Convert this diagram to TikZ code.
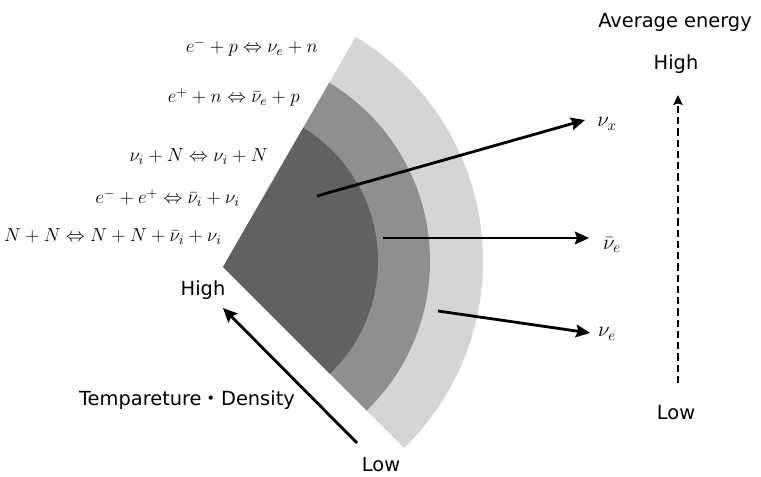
\documentclass[tikz,border=0pt]{standalone}
\usepackage{fix-cm}
\usepackage[no-math]{fontspec}
\setmainfont{DejaVu Sans}
\newfontfamily\jpfont{Noto Sans CJK JP}
\usetikzlibrary{arrows.meta}
\definecolor{coregray}{gray}{0.38}
\definecolor{midgray}{gray}{0.56}
\definecolor{shellgray}{gray}{0.835}
\tikzstyle{reaction} = [anchor=base east, inner sep=0pt, font=\fontsize{13.5}{15}\selectfont]
\tikzstyle{flavour} = [inner sep=1pt, font=\fontsize{15}{17}\selectfont]
\tikzstyle{txt} = [inner sep=1pt, font=\fontsize{13.8}{16}\selectfont]
\tikzstyle{flux} = [line width=2pt, -{Stealth[length=10pt,width=9pt,inset=1.5pt]}]
\tikzstyle{energyarrow} = [line width=1.8pt, dash pattern=on 5pt off 3pt, -{Stealth[length=7pt,width=6.5pt,inset=1pt]}]

\begin{document}
\begin{tikzpicture}[x=0.025cm,y=-0.025cm]
  \useasboundingbox (0,0) rectangle (761,477);
  % the three shells
  \begin{scope}
    \clip (223,267) -- (423,-80) -- (700,-80) -- (700,600) -- (549,593) -- cycle;
    \fill[shellgray] (222,261) circle[radius=261];
    \fill[midgray] (222,261) circle[radius=208];
    \fill[coregray] (222,261) circle[radius=156];
  \end{scope}

  \node (r1)[reaction] at (318,53) {$e^-+p\Leftrightarrow\nu_e+n$};
  \node (r2)[reaction] at (300,103) {$e^++n\Leftrightarrow\bar{\nu}_e+p$};
  \node (r3)[reaction] at (268,162) {$\nu_i+N\Leftrightarrow\nu_i+N$};
  \node (r4)[reaction] at (240,204) {$e^-+e^+\Leftrightarrow\bar{\nu}_i+\nu_i$};
  \node (r5)[reaction] at (222,242) {$N+N\Leftrightarrow N+N+\bar{\nu}_i+\nu_i$};

  \node (nux)[flavour] at (607,124) {$\nu_x$};
  \node (nuebar)[flavour] at (612,245) {$\bar{\nu}_e$};
  \node (nue)[flavour] at (607,334) {$\nu_e$};
  \coordinate (nux-in) at (317,196);
  \coordinate (nux-out) at (585,120);
  \coordinate (nuebar-in) at (383,238);
  \coordinate (nuebar-out) at (589,238);
  \coordinate (nue-in) at (438,311);
  \coordinate (nue-out) at (590,333);
  \draw[flux] (nux-in)--(nux-out);
  \draw[flux] (nuebar-in)--(nuebar-out);
  \draw[flux] (nue-in)--(nue-out);

  \node (avg)[txt] at (675,22) {Average energy};
  \node (ehigh)[txt] at (676,64) {High};
  \node (elow)[txt] at (676,413) {Low};
  \coordinate (e-low) at (678,383);
  \coordinate (e-high) at (678,95);
  \draw[energyarrow] (e-low)--(e-high);

  \node (thigh)[txt] at (203,290) {High};
  \node (tlow)[txt] at (381,465) {Low};
  \node (tname)[txt] at (187,400) {Tempareture{\jpfont ・}Density};
  \coordinate (t-low) at (357,443);
  \coordinate (t-high) at (223,308);
  \draw[flux] (t-low)--(t-high);
\end{tikzpicture}
\end{document}
